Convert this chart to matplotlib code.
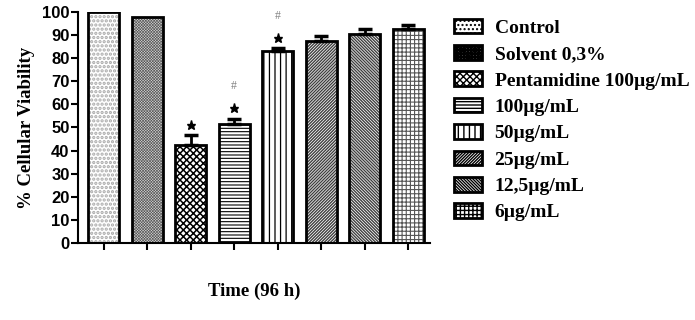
import matplotlib
matplotlib.use("Agg")
import matplotlib.pyplot as plt
import numpy as np
from matplotlib.patches import Patch

# data
groups = ['Control', 'Solvent 0,3%', 'Pentamidine 100µg/mL', '100µg/mL',
          '50µg/mL', '25µg/mL', '12,5µg/mL', '6µg/mL']
viability = [100, 98, 42.5, 51.5, 83, 87.5, 90.5, 92.5]
sem = [0, 0, 4.2, 2.3, 1.3, 2.0, 2.3, 1.9]
star_marks = [False, False, True, True, True, False, False, False]
hash_marks = [False, False, False, True, True, False, False, False]
yticks = list(range(0, 101, 10))

# look of each bar: hatch, hatch colour, face colour, hatch line width
hatches = ['....', 'x' * 12, 'xxxxx', '-----', '|||', '/' * 11, '\\' * 11, '++++']
hatch_cols = ['#a8a8a8', '#5a5a5a', 'black', 'black', 'black', '#404040', '#404040', '#555555']
faces = ['white', '#d4d4d4', 'white', 'white', 'white', 'white', 'white', 'white']
hatch_lw = [1.6, 0.45, 1.1, 0.8, 0.9, 1.0, 1.0, 0.8]

serif = ['Liberation Serif', 'DejaVu Serif']
sans = ['Liberation Sans', 'DejaVu Sans']

fig = plt.figure(figsize=(6.95, 3.2), dpi=100)
ax = fig.add_axes([0.112, 0.241, 0.507, 0.7215])

x = np.arange(len(groups))
width = 0.71
for i in range(len(groups)):
    with plt.rc_context({'hatch.linewidth': hatch_lw[i]}):
        ax.bar(x[i], viability[i], width, color=faces[i], edgecolor=hatch_cols[i],
               hatch=hatches[i], linewidth=0, zorder=2)
    ax.bar(x[i], viability[i], width, fill=False, edgecolor='black', linewidth=2.0, zorder=3)
    if sem[i] > 0:
        ax.errorbar(x[i], viability[i], yerr=[[0], [sem[i]]], color='black',
                    capsize=5, capthick=2.5, elinewidth=2, zorder=4)
    top = viability[i] + sem[i]
    if star_marks[i]:
        ax.plot(x[i], top + 4.5, marker='*', color='black', markersize=6.5, zorder=5)
    if hash_marks[i]:
        ax.text(x[i], top + 14, '#', color='#808080', fontsize=8.5, ha='center',
                va='center', family=serif)

ax.set_xlim(-0.59, 7.5)
ax.set_ylim(0, 100)
ax.set_yticks(yticks)
ax.set_xticks(x)
ax.set_xticklabels([])
ax.tick_params(axis='y', length=5, width=1.5, labelsize=12, pad=1)
ax.tick_params(axis='x', length=5, width=1.5, direction='out')
for lab in ax.get_yticklabels():
    lab.set_family(sans)
    lab.set_fontweight('bold')
for s in ['top', 'right']:
    ax.spines[s].set_visible(False)
for s in ['left', 'bottom']:
    ax.spines[s].set_linewidth(1.5)

ax.set_ylabel('% Cellular Viability', family=serif, fontweight='bold', fontsize=13.5, labelpad=5)
ax.set_xlabel('Time (96 h)', family=serif, fontweight='bold', fontsize=13.5, labelpad=20)

handles = []
for i in range(len(groups)):
    with plt.rc_context({'hatch.linewidth': hatch_lw[i]}):
        handles.append(Patch(facecolor=faces[i], edgecolor='black', hatch=hatches[i],
                             linewidth=2.0))
fig.legend(handles, groups, loc='upper left', bbox_to_anchor=(0.633, 0.984),
           frameon=False, prop={'family': serif, 'weight': 'bold', 'size': 14},
           handlelength=1.44, handleheight=0.77, labelspacing=0.43, handletextpad=0.67,
           borderpad=0.2)

fig.savefig('out.png', dpi=100)
